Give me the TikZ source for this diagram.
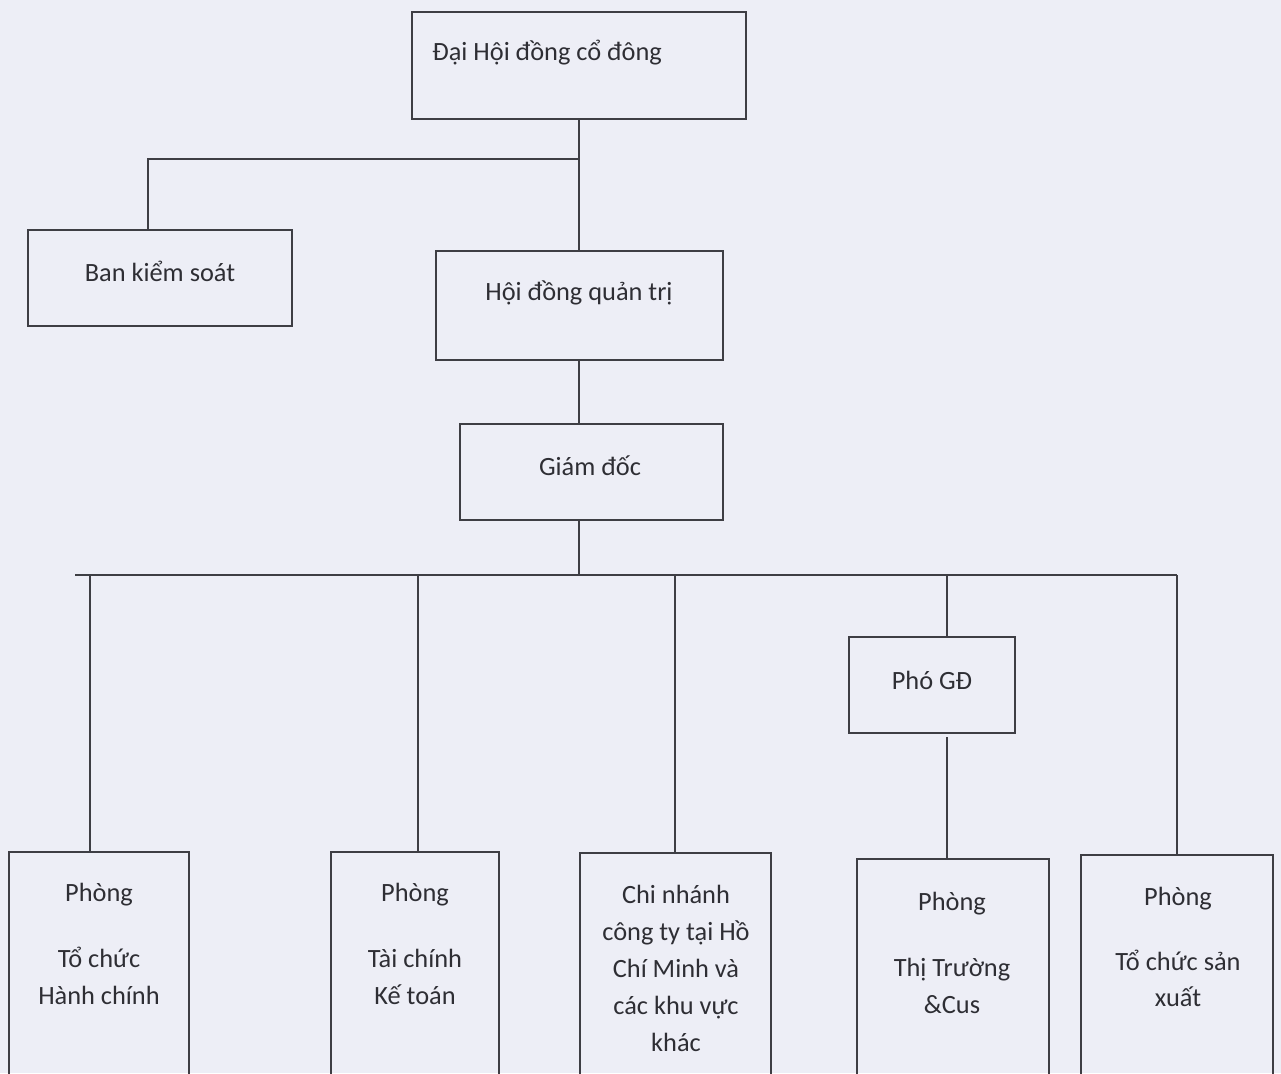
\documentclass[tikz,border=0pt]{standalone}
\usepackage{fontspec}
\setmainfont{Carlito}
\definecolor{paper}{HTML}{EDEEF6}
\definecolor{inkline}{HTML}{3E3E44}
\definecolor{inktext}{HTML}{2E2E34}
\usetikzlibrary{positioning,calc}
\tikzset{
  box/.style={draw=inkline,line width=1pt,inner sep=0pt},
  lbl/.style={inner sep=0pt,text=inktext,font=\fontsize{15}{21}\selectfont,align=center},
  link/.style={draw=inkline,line width=1pt},
  bus/.style={draw=inkline,line width=1.4pt}
}
\begin{document}
\begin{tikzpicture}[x=0.02cm,y=-0.02cm]
  \fill[paper] (0,0) rectangle (1281,1073);
  \useasboundingbox (0,0) rectangle (1281,1073);
  \clip (0,0) rectangle (1281,1073);
  % upper boxes
  \node[box,minimum width=6.68cm,minimum height=2.14cm] (dhd) at (579,65.5) {};
  \node[box,minimum width=5.28cm,minimum height=1.92cm] (bks) at (160,278) {};
  \node[box,minimum width=5.74cm,minimum height=2.18cm] (hdqt) at (579.5,305.5) {};
  \node[box,minimum width=5.26cm,minimum height=1.92cm] (gd) at (591.5,472) {};
  \node[box,minimum width=3.32cm,minimum height=1.92cm] (pgd) at (932,685) {};
  % lower boxes
  \node[box,minimum width=3.6cm,minimum height=4.76cm] (tchc) at (99,971) {};
  \node[box,minimum width=3.36cm,minimum height=4.76cm] (tckt) at (415,971) {};
  \node[box,minimum width=3.82cm,minimum height=4.74cm] (cn) at (675.5,971.5) {};
  \node[box,minimum width=3.84cm,minimum height=4.62cm] (tt) at (953,974.5) {};
  \node[box,minimum width=3.84cm,minimum height=4.70cm] (tcsx) at (1177,972.5) {};
  % texts
  \node[lbl,anchor=west] (tdhd) at (432,53) {Đại Hội đồng cổ đông};
  \node[lbl] (tbks) at (160,271) {Ban kiểm soát};
  \node[lbl] (thdqt) at (579,293) {Hội đồng quản trị};
  \node[lbl] (tgd) at (590,466) {Giám đốc};
  \node[lbl] (tpgd) at (932,680) {Phó GĐ};
  \node[lbl,anchor=north] (ttchc) at (99,883) {Phòng\\[0.58cm]Tổ chức\\Hành chính};
  \node[lbl,anchor=north] (ttckt) at (415,883) {Phòng\\[0.58cm]Tài chính\\Kế toán};
  \node[lbl,anchor=north] (tcn) at (676,885) {Chi nhánh\\công ty tại Hồ\\Chí Minh và\\các khu vực\\khác};
  \node[lbl,anchor=north] (ttt) at (952,892) {Phòng\\[0.58cm]Thị Trường\\\&Cus};
  \node[lbl,anchor=north] (ttcsx) at (1178,887) {Phòng\\[0.55cm]Tổ chức sản\\xuất};
  % connectors
  \coordinate (j1) at (579,159);
  \coordinate (kb) at (148,159);
  \draw[link] (dhd.south) -- (dhd.south |- hdqt.north);
  \draw[link] (j1) -- (kb) -- (kb |- bks.north);
  \draw[link] (j1 |- hdqt.south) -- (j1 |- gd.north);
  \coordinate (busl) at (75,575);
  \coordinate (busr) at (1177,575);
  \draw[link] (j1 |- gd.south) -- (j1 |- busl);
  \draw[bus] (busl) -- (busr);
  \foreach \x/\n in {90/tchc,418/tckt,675/cn,1177/tcsx}
    \draw[link] (\x,575) -- (\x,0 |- \n.north);
  \draw[link] (947,575) -- (947,0 |- pgd.north);
  \draw[link] (947,737) -- (947,0 |- tt.north);
\end{tikzpicture}
\end{document}
